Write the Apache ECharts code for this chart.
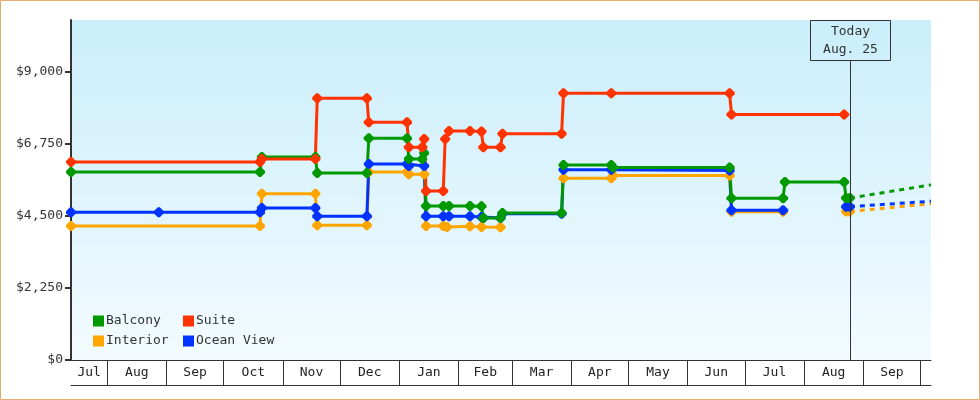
<!DOCTYPE html>
<html>
<head>
<meta charset="utf-8">
<title>Cabin prices</title>
<script src="https://cdn.jsdelivr.net/npm/echarts@6/dist/echarts.min.js"></script>
<style>
html, body { margin: 0; padding: 0; background: #fff; }
#main { width: 980px; height: 400px; }
</style>
</head>
<body>
<div id="main"></div>
<script>
var axisStart = '2018-07-13';
var axisEnd = '2019-10-06 12:00';
var today = '2019-08-25';
var todayLabel = ['Today', 'Aug. 25'];
var monthNames = ['Jan', 'Feb', 'Mar', 'Apr', 'May', 'Jun', 'Jul', 'Aug', 'Sep', 'Oct', 'Nov', 'Dec'];
var priceTicks = [0, 2250, 4500, 6750, 9000];
var priceMax = 10600;

// price history, one point per price change (old price end, new price start)
var balcony = [
    ['2018-07-13', 5860], ['2018-10-20', 5860], ['2018-10-21', 6330], ['2018-11-18', 6330],
    ['2018-11-19', 5830], ['2018-12-15', 5830], ['2018-12-16', 6910], ['2019-01-05', 6910],
    ['2019-01-06', 6270], ['2019-01-13', 6270], ['2019-01-14', 6450], ['2019-01-15', 4800],
    ['2019-01-24', 4800], ['2019-01-27', 4800], ['2019-02-07', 4800], ['2019-02-13', 4790],
    ['2019-02-14', 4430], ['2019-02-23', 4430], ['2019-02-24', 4580], ['2019-03-27', 4580],
    ['2019-03-28', 6080], ['2019-04-22', 6080], ['2019-04-23', 6000], ['2019-06-23', 6000],
    ['2019-06-24', 5040], ['2019-07-21', 5040], ['2019-07-22', 5550], ['2019-08-22', 5550],
    ['2019-08-23', 5050], ['2019-08-25', 5050]
];
var suite = [
    ['2018-07-13', 6170], ['2018-10-20', 6170], ['2018-10-21', 6270], ['2018-11-18', 6270],
    ['2018-11-19', 8160], ['2018-12-15', 8160], ['2018-12-16', 7410], ['2019-01-05', 7410],
    ['2019-01-06', 6630], ['2019-01-13', 6630], ['2019-01-14', 6890], ['2019-01-15', 5270],
    ['2019-01-24', 5270], ['2019-01-25', 6890], ['2019-01-27', 7140], ['2019-02-07', 7140],
    ['2019-02-13', 7120], ['2019-02-14', 6630], ['2019-02-23', 6630], ['2019-02-24', 7050],
    ['2019-03-27', 7050], ['2019-03-28', 8320], ['2019-04-22', 8320], ['2019-06-23', 8320],
    ['2019-06-24', 7650], ['2019-08-22', 7650]
];
var interior = [
    ['2018-07-13', 4180], ['2018-10-20', 4180], ['2018-10-21', 5180], ['2018-11-18', 5180],
    ['2018-11-19', 4200], ['2018-12-15', 4200], ['2018-12-16', 5860], ['2019-01-05', 5860],
    ['2019-01-06', 5790], ['2019-01-14', 5790], ['2019-01-15', 4180], ['2019-01-24', 4180],
    ['2019-01-26', 4150], ['2019-02-07', 4170], ['2019-02-13', 4150], ['2019-02-23', 4140],
    ['2019-02-24', '-'],
    ['2019-03-28', 5670], ['2019-04-22', 5670], ['2019-04-23', 5750], ['2019-06-23', 5750],
    ['2019-06-24', 4620], ['2019-07-21', 4620],
    ['2019-07-22', '-'],
    ['2019-08-23', 4630], ['2019-08-25', 4630]
];
var oceanView = [
    ['2018-07-13', 4610], ['2018-08-28', 4610], ['2018-10-20', 4610], ['2018-10-21', 4740],
    ['2018-11-18', 4740], ['2018-11-19', 4480], ['2018-12-15', 4480], ['2018-12-16', 6110],
    ['2019-01-05', 6110], ['2019-01-06', 6050], ['2019-01-14', 6050], ['2019-01-15', 4480],
    ['2019-01-24', 4480], ['2019-01-27', 4480], ['2019-02-07', 4480], ['2019-02-13', 4460],
    ['2019-02-14', 4430], ['2019-02-23', 4430], ['2019-02-24', 4560], ['2019-03-27', 4560],
    ['2019-03-28', 5930], ['2019-04-22', 5930], ['2019-06-23', 5910],
    ['2019-06-24', 4670], ['2019-07-21', 4670],
    ['2019-07-22', '-'],
    ['2019-08-23', 4780], ['2019-08-25', 4780]
];
// projected prices after today
var balconyForecast = [['2019-08-25', 5050], ['2019-10-06 12:00', 5460]];
var interiorForecast = [['2019-08-25', 4630], ['2019-10-06 12:00', 4870]];
var oceanViewForecast = [['2019-08-25', 4780], ['2019-10-06 12:00', 4950]];

var font = 'DejaVu Sans Mono';
var ink = '#333';
var colors = {Balcony: '#009900', Suite: '#ff3300', Interior: '#ffa500', 'Ocean View': '#0033ff'};
var marker = 'path://M4,0L6,0L10,4L10,6L6,10L4,10L0,6L0,4Z';

function toTime(s) {
    var p = s.split(/[- :]/).map(Number);
    return new Date(p[0], p[1] - 1, p[2], p[3] || 0, p[4] || 0).getTime();
}
// dates -> timestamps for the (linear) value axis
function points(list) {
    return list.map(function (p) { return [toTime(p[0]), p[1]]; });
}

// month separators and centred month labels
var t0 = toTime(axisStart), t1 = toTime(axisEnd);
var edges = [];
var d = new Date(t0);
d = new Date(d.getFullYear(), d.getMonth(), 1);
while (d.getTime() < t1) {
    edges.push(d.getTime());
    d = new Date(d.getFullYear(), d.getMonth() + 1, 1);
}
var monthTicks = edges.filter(function (t) { return t > t0; });
var monthMids = [];
for (var i = 0; i < edges.length; i++) {
    var a = Math.max(edges[i], t0);
    var b = Math.min(i + 1 < edges.length ? edges[i + 1] : t1, t1);
    if (b - a > 10 * 86400000) monthMids.push((a + b) / 2);
}

function priceSeries(name, data) {
    return {
        name: name,
        type: 'line',
        data: points(data),
        symbol: marker,
        symbolSize: 10,
        showAllSymbol: true,
        connectNulls: false,
        lineStyle: {width: 3, color: colors[name]},
        itemStyle: {color: colors[name]},
        emphasis: {disabled: true}
    };
}
function forecastSeries(name, data) {
    return {
        name: name + ' forecast',
        type: 'line',
        data: points(data),
        showSymbol: false,
        z: 1,
        lineStyle: {width: 3, color: colors[name], type: [5, 5]},
        itemStyle: {color: colors[name]},
        emphasis: {disabled: true}
    };
}

var legendText = {fontFamily: font, fontSize: 13, color: ink, lineHeight: 14, padding: [0, 0, 0, -3]};
var myChart = echarts.init(document.getElementById('main'));
var option = {
    animation: false,
    textStyle: {fontFamily: font},
    grid: {
        left: 71, right: 49, top: 20, bottom: 40,
        show: true, borderWidth: 0,
        backgroundColor: new echarts.graphic.LinearGradient(0, 0, 0, 1, [
            {offset: 0, color: '#caeefb'},
            {offset: 1, color: '#f3fbff'}
        ])
    },
    legend: [{
        data: ['Balcony', 'Interior'],
        orient: 'vertical', left: 93, top: 314, padding: 0,
        icon: 'rect', itemWidth: 11, itemHeight: 11, itemGap: 6,
        selectedMode: false, textStyle: legendText
    }, {
        data: ['Suite', 'Ocean View'],
        orient: 'vertical', left: 183, top: 314, padding: 0,
        icon: 'rect', itemWidth: 11, itemHeight: 11, itemGap: 6,
        selectedMode: false, textStyle: legendText
    }],
    xAxis: [{
        type: 'value',
        min: t0, max: t1,
        axisLine: {lineStyle: {color: ink, width: 1}},
        axisTick: {show: true, customValues: monthTicks, length: 25, lineStyle: {color: ink, width: 1}},
        axisLabel: {
            customValues: monthMids, margin: 6,
            fontFamily: font, fontSize: 13, color: '#222',
            formatter: function (v) { return monthNames[new Date(v).getMonth()]; }
        },
        splitLine: {show: false}
    }, {
        type: 'value',
        position: 'bottom', offset: 25,
        min: t0, max: t1,
        axisLine: {show: true, lineStyle: {color: ink, width: 1}},
        axisTick: {show: false},
        axisLabel: {show: false},
        splitLine: {show: false}
    }],
    yAxis: {
        type: 'value',
        min: 0, max: priceMax,
        axisLine: {show: true, lineStyle: {color: ink, width: 2}},
        axisTick: {show: true, customValues: priceTicks, length: 6, lineStyle: {color: ink, width: 2}},
        axisLabel: {
            customValues: priceTicks, margin: 8,
            fontFamily: font, fontSize: 13, color: ink,
            formatter: function (v) { return '$' + v.toLocaleString('en-US'); }
        },
        splitLine: {show: false}
    },
    series: [
        forecastSeries('Interior', interiorForecast),
        forecastSeries('Ocean View', oceanViewForecast),
        forecastSeries('Balcony', balconyForecast),
        priceSeries('Interior', interior),
        priceSeries('Ocean View', oceanView),
        priceSeries('Balcony', balcony),
        priceSeries('Suite', suite)
    ]
};
myChart.setOption(option);

// today marker + frame, placed with the axis scale
var tx = Math.round(myChart.convertToPixel({xAxisIndex: 0}, toTime(today))) + 0.5;
myChart.setOption({
    graphic: [{
        type: 'rect', silent: true, z: 100,
        shape: {x: 0.5, y: 0.5, width: 979, height: 399},
        style: {fill: 'none', stroke: '#e6ad6e', lineWidth: 1}
    }, {
        type: 'line', silent: true, z: 100,
        shape: {x1: tx, y1: 60.5, x2: tx, y2: 360},
        style: {stroke: ink, lineWidth: 1}
    }, {
        type: 'rect', silent: true, z: 100,
        shape: {x: tx - 40, y: 20.5, width: 80, height: 40},
        style: {fill: 'none', stroke: ink, lineWidth: 1}
    }, {
        type: 'text', silent: true, z: 100,
        x: tx, y: 32,
        style: {text: todayLabel[0], font: '13px "' + font + '"', fill: ink, align: 'center', verticalAlign: 'middle'}
    }, {
        type: 'text', silent: true, z: 100,
        x: tx, y: 50,
        style: {text: todayLabel[1], font: '13px "' + font + '"', fill: ink, align: 'center', verticalAlign: 'middle'}
    }]
});
</script>
</body>
</html>
